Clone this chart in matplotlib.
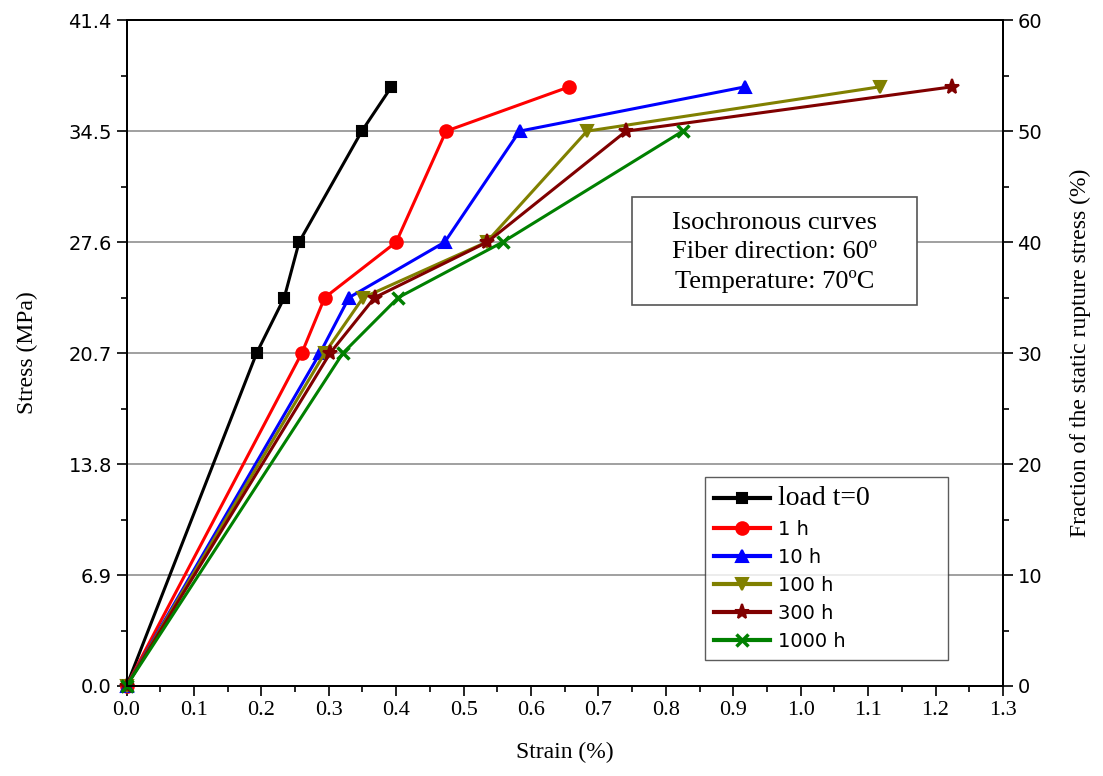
import matplotlib.pyplot as plt
from matplotlib.ticker import MultipleLocator, FixedLocator, FormatStrFormatter
from matplotlib.patches import Rectangle

# Stress levels (MPa) shared by all curves
stress = [0.0, 20.7, 24.15, 27.6, 34.5, 37.26]

# Strain (%) read for each isochronous curve
strain_t0 = [0.0, 0.193, 0.234, 0.256, 0.349, 0.393]
strain_1h = [0.0, 0.260, 0.294, 0.400, 0.474, 0.657]
strain_10h = [0.0, 0.287, 0.330, 0.472, 0.583, 0.918]
strain_100h = [0.0, 0.294, 0.351, 0.534, 0.683, 1.118]
strain_300h = [0.0, 0.302, 0.368, 0.535, 0.741, 1.225]
strain_1000h = [0.0, 0.321, 0.403, 0.558, 0.825]

labels = ['load t=0', '1 h', '10 h', '100 h', '300 h', '1000 h']
y_ticks = [0.0, 6.9, 13.8, 20.7, 27.6, 34.5, 41.4]

serif = 'Liberation Serif'

fig = plt.figure(figsize=(11.03, 7.76), dpi=100)
ax = fig.add_axes([0.1147, 0.116, 0.7946, 0.858])

series = [
    (strain_t0, stress, 'black', 's', 7, 1.5),
    (strain_1h, stress, '#ff0000', 'o', 9, 1.5),
    (strain_10h, stress, '#0000ff', '^', 9, 1.5),
    (strain_100h, stress, '#808000', 'v', 9, 1.5),
    (strain_300h, stress, '#800000', '*', 11, 1.5),
    (strain_1000h, stress[:5], '#008000', 'x', 9, 2.5),
]
for (xs, ys, c, m, ms, mew), lab in zip(series, labels):
    ax.plot(xs, ys, color=c, marker=m, markersize=ms, markeredgewidth=mew,
            linewidth=2.2, label=lab, zorder=3, clip_on=False)

ax.set_xlim(0, 1.3)
ax.set_ylim(0, 41.4)
ax.xaxis.set_major_locator(MultipleLocator(0.1))
ax.xaxis.set_minor_locator(MultipleLocator(0.05))
ax.xaxis.set_major_formatter(FormatStrFormatter('%.1f'))
ax.yaxis.set_major_locator(FixedLocator(y_ticks))
ax.yaxis.set_minor_locator(MultipleLocator(3.45))
ax.yaxis.set_major_formatter(FormatStrFormatter('%.1f'))
for lab in ax.get_xticklabels():
    lab.set_fontfamily(serif)
    lab.set_fontsize(16)
ax.tick_params(axis='y', labelsize=14)
ax.tick_params(which='major', direction='out', length=7, width=1.2)
ax.tick_params(which='minor', direction='out', length=4, width=1.2)

for v in y_ticks[1:-1]:
    ax.axhline(v, color='#999999', linewidth=1.3, zorder=1)

for s in ax.spines.values():
    s.set_linewidth(1.4)

ax.set_xlabel('Strain (%)', fontfamily=serif, fontsize=17, labelpad=16)
ax.set_ylabel('Stress (MPa)', fontfamily=serif, fontsize=17, labelpad=22)

ax2 = ax.twinx()
ax2.set_ylim(0, 60)
ax2.yaxis.set_major_locator(MultipleLocator(10))
ax2.yaxis.set_minor_locator(MultipleLocator(5))
ax2.tick_params(axis='y', labelsize=14)
ax2.tick_params(which='major', direction='out', length=7, width=1.2)
ax2.tick_params(which='minor', direction='out', length=4, width=1.2)
for s in ax2.spines.values():
    s.set_linewidth(1.4)
ax2.set_ylabel('Fraction of the static rupture stress (%)', fontfamily=serif,
               fontsize=17, labelpad=20)

# annotation box
ax.add_patch(Rectangle((0.5767, 0.572), 0.3253, 0.162, transform=ax.transAxes,
                       facecolor='white', edgecolor='#555555', linewidth=1.2,
                       zorder=5))
ax.text(0.739, 0.651, 'Isochronous curves\nFiber direction: 60º\nTemperature: 70ºC',
        transform=ax.transAxes, ha='center', va='center', fontfamily=serif,
        fontsize=19, linespacing=1.4, zorder=6)

leg = ax.legend(loc='lower left', bbox_to_anchor=(0.66, 0.039, 0.277, 0.276),
                mode='expand', fancybox=False, edgecolor='#333333',
                fontsize=14, handlelength=2.9, labelspacing=0.47,
                borderpad=0.45, handletextpad=0.4, borderaxespad=0)
leg.get_frame().set_linewidth(1.0)
leg.get_texts()[0].set_fontfamily(serif)
leg.get_texts()[0].set_fontsize(20)
for h in leg.legend_handles:
    h.set_linewidth(3)
leg.set_zorder(7)

fig.savefig('out.png', dpi=100, facecolor='white')
